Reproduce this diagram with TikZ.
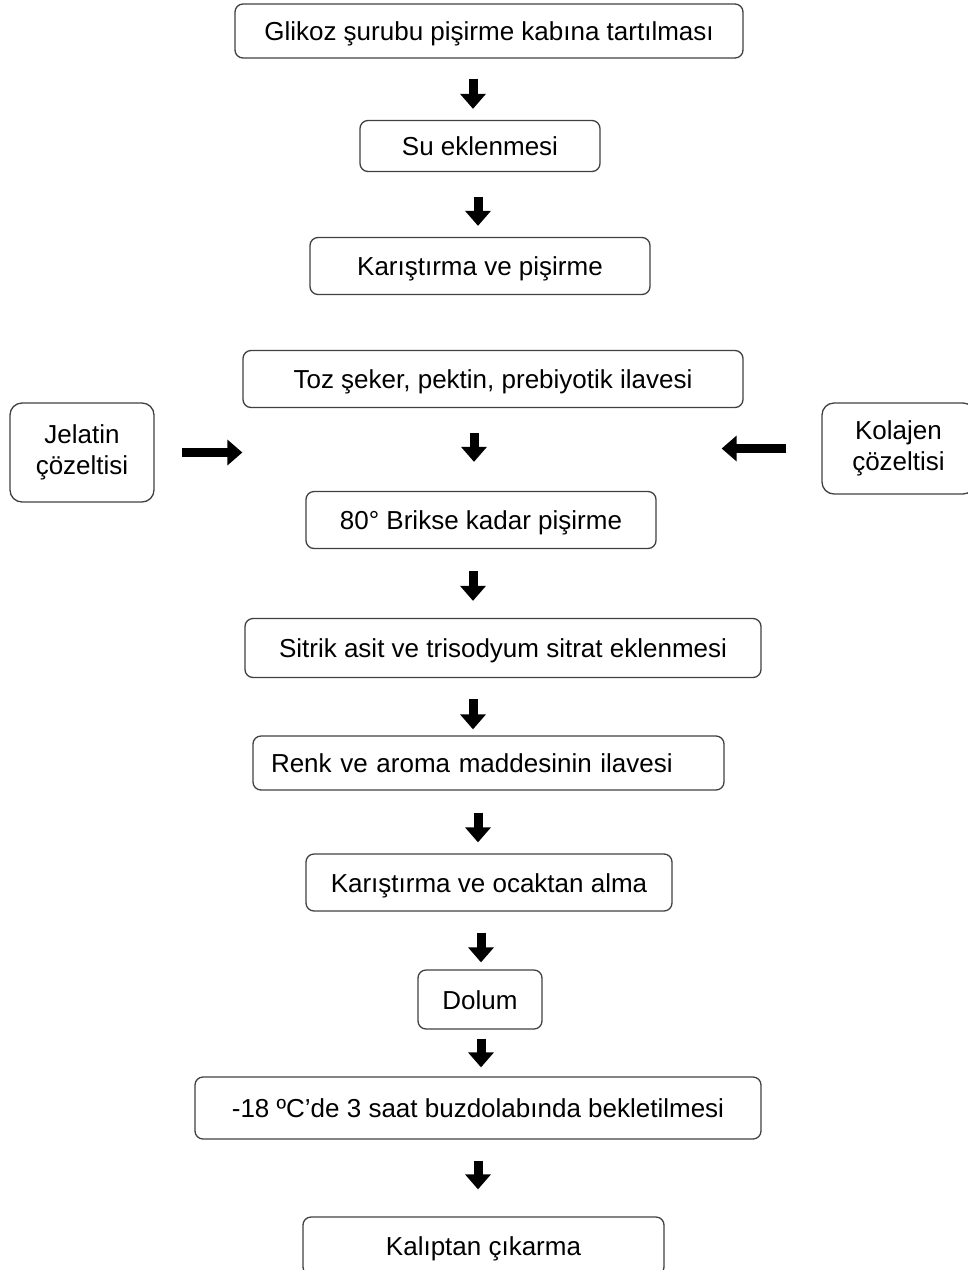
\documentclass[tikz,border=0pt]{standalone}
\usepackage{fontspec}
\setmainfont{Liberation Sans}
\usetikzlibrary{arrows.meta}

\begin{document}
\begin{tikzpicture}[
  x=1pt, y=-1pt,
  font=\fontsize{26}{31}\selectfont,
  box/.style = {
    draw=black!75,
    line width=1.3pt,
    rounded corners=8pt,
    inner sep=0pt,
    align=center
  },
  stepbox/.style = {
    box,
    text height=19pt,
    text depth=0pt
  },
  fat/.style = {
    line width=9pt,
    -{Triangle[width=25pt,length=15pt]}
  },
]
  \useasboundingbox (0,0) rectangle (968,1270);

  % main column
  \node (glikoz)[stepbox, minimum width=508pt, minimum height=54pt] at (489,31) {Glikoz şurubu pişirme kabına tartılması};
  \node (su)[stepbox, minimum width=240pt, minimum height=51pt] at (480,146) {Su eklenmesi};
  \node (karis)[stepbox, minimum width=340pt, minimum height=57pt] at (480,266) {Karıştırma ve pişirme};
  \node (toz)[stepbox, minimum width=500pt, minimum height=57pt] at (493,379) {Toz şeker, pektin, prebiyotik ilavesi};
  \node (brix)[stepbox, minimum width=350pt, minimum height=57pt] at (481,520) {80° Brikse kadar pişirme};
  \node (sitrik)[stepbox, minimum width=516pt, minimum height=59pt] at (503,648) {Sitrik asit ve trisodyum sitrat eklenmesi};
  \node (renk)[
    stepbox,
    minimum width=471pt,
    minimum height=54pt,
    text width=435pt,
    inner xsep=18pt,
    align=left
  ] at (488.5,763) {Renk ve aroma maddesinin ilavesi};
  \node (ocak)[stepbox, minimum width=366pt, minimum height=57pt] at (489,882.5) {Karıştırma ve ocaktan alma};
  \node (dolum)[stepbox, minimum width=124pt, minimum height=59pt] at (480,999.5) {Dolum};
  \node (bekle)[stepbox, minimum width=566pt, minimum height=62pt] at (478,1108) {-18 ºC’de 3 saat buzdolabında bekletilmesi};
  \node (kalip)[stepbox, minimum width=361pt, minimum height=58pt] at (483.5,1246) {Kalıptan çıkarma};

  % side solutions
  \node (jelatin)[box, rounded corners=12pt, minimum width=144pt, minimum height=99pt] at (82,452.5) {Jelatin\\çözeltisi};
  \node (kolajen)[box, rounded corners=12pt, minimum width=153pt, minimum height=91pt] at (898.5,448.5) {Kolajen\\çözeltisi};

  \draw[fat, shorten <=20pt, shorten >=11pt] (glikoz.south -| 473,0) -- (su.north -| 473,0);
  \draw[fat, shorten <=25pt, shorten >=11pt] (su.south -| 478,0) -- (karis.north -| 478,0);
  \draw[fat, shorten <=25pt, shorten >=29pt] (toz.south -| 474,0) -- (brix.north -| 474,0);
  \draw[fat, shorten <=22pt, shorten >=17pt] (brix.south -| 473,0) -- (sitrik.north -| 473,0);
  \draw[fat, shorten <=21pt, shorten >=6pt] (sitrik.south -| 473,0) -- (renk.north -| 473,0);
  \draw[fat, shorten <=22pt, shorten >=11pt] (renk.south -| 478,0) -- (ocak.north -| 478,0);
  \draw[fat, shorten <=21pt, shorten >=7pt] (ocak.south -| 481,0) -- (dolum.north -| 481,0);
  \draw[fat, shorten <=9pt, shorten >=9pt] (dolum.south -| 481,0) -- (bekle.north -| 481,0);
  \draw[fat, shorten <=21pt, shorten >=27pt] (bekle.south -| 478,0) -- (kalip.north -| 478,0);

  \draw[fat, shorten <=27pt] (jelatin.east) -- (jelatin.east -| toz.west);
  \draw[fat, shorten <=35pt, shorten >=-22pt] (kolajen.west) -- (kolajen.west -| toz.east);
\end{tikzpicture}
\end{document}
